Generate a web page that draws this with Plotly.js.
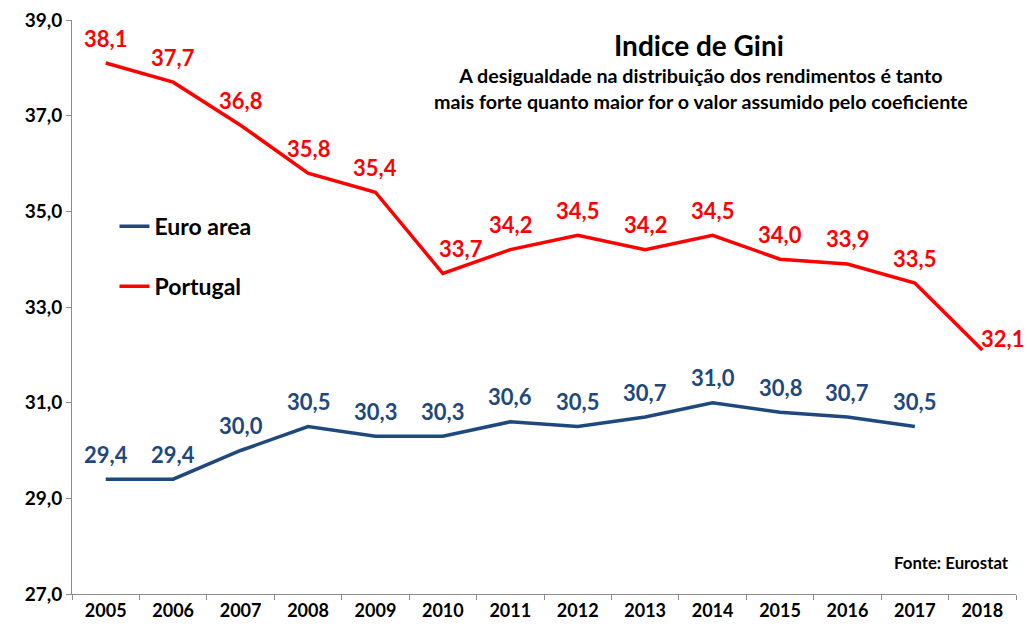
<!DOCTYPE html>
<html>
<head>
<meta charset="utf-8">
<script src="https://cdn.plot.ly/plotly-3.0.1.min.js"></script>
<style>html,body{margin:0;padding:0;background:#fff;}#chart{width:1027px;height:630px;}</style>
</head>
<body>
<div id="chart"></div>
<script>
const years = ['2005','2006','2007','2008','2009','2010','2011','2012','2013','2014','2015','2016','2017','2018'];
const euroArea = [29.4,29.4,30.0,30.5,30.3,30.3,30.6,30.5,30.7,31.0,30.8,30.7,30.5,null];
const portugal = [38.1,37.7,36.8,35.8,35.4,33.7,34.2,34.5,34.2,34.5,34.0,33.9,33.5,32.1];
const yTicks = [27,29,31,33,35,37,39];

const fmt = v => v === null ? '' : v.toFixed(1).replace('.', ',');
const FONT = 'Lato, "Open Sans", sans-serif';
const BLUE = '#1F497D', RED = '#FF0000';

const traces = [
  {
    x: years, y: euroArea, name: 'Euro area', type: 'scatter', mode: 'lines',
    legendgroup: 'a', line: {color: BLUE, width: 3.5}, hoverinfo: 'skip'
  },
  {
    x: years, y: portugal, name: 'Portugal', type: 'scatter', mode: 'lines',
    legendgroup: 'b', line: {color: RED, width: 3.5}, hoverinfo: 'skip'
  }
];

// category index used as x position of the label (the axis is categorical)
function labels(vals, color, shifts) {
  const out = [];
  vals.forEach((v, i) => {
    if (v === null) return;
    const s = (shifts && shifts[years[i]]) || [0, 25];
    out.push({
      x: i, y: v, xref: 'x', yref: 'y', text: fmt(v), showarrow: false,
      xanchor: 'center', yanchor: 'middle', xshift: s[0], yshift: s[1],
      font: {family: FONT, size: 22, color: color, weight: 'bold'}
    });
  });
  return out;
}

const layout = {
  width: 1027, height: 630,
  margin: {l: 72, r: 11, t: 19.5, b: 36},
  paper_bgcolor: '#fff', plot_bgcolor: '#fff',
  separators: ',.',
  font: {family: FONT, color: '#000'},
  showlegend: true,
  legend: {
    x: 0.045, y: 0.678, xanchor: 'left', yanchor: 'top',
    traceorder: 'grouped', tracegroupgap: 27,
    font: {family: FONT, size: 23, color: '#000', weight: 'bold'},
    itemwidth: 30, bgcolor: 'rgba(0,0,0,0)'
  },
  xaxis: {
    type: 'category', range: [-0.5, 13.5],
    showline: true, linecolor: '#8c8c8c', linewidth: 1,
    ticks: 'outside', tickson: 'boundaries', ticklen: 5, tickcolor: '#8c8c8c',
    showgrid: false, zeroline: false,
    tickfont: {family: FONT, size: 18, color: '#000', weight: 'bold'}
  },
  yaxis: {
    range: [27, 39], tickvals: yTicks, ticktext: yTicks.map(fmt),
    showline: true, linecolor: '#8c8c8c', linewidth: 1,
    ticks: 'outside', ticklen: 5, tickcolor: '#8c8c8c',
    showgrid: false, zeroline: false,
    tickfont: {family: FONT, size: 19, color: '#000', weight: 'bold'}
  },
  annotations: [
    {text: 'Indice de Gini', xref: 'paper', yref: 'paper', x: 0.664, y: 0.956,
     xanchor: 'center', yanchor: 'middle', showarrow: false,
     font: {family: FONT, size: 28, color: '#000', weight: 'bold'}},
    {text: 'A desigualdade na distribuição dos rendimentos é tanto<br>mais forte quanto maior for o valor assumido pelo coeficiente',
     xref: 'paper', yref: 'paper', x: 0.666, y: 0.88,
     xanchor: 'center', yanchor: 'middle', showarrow: false, align: 'center',
     font: {family: FONT, size: 19.7, color: '#000', weight: 'bold'}},
    {text: 'Fonte: Eurostat', xref: 'paper', yref: 'paper', x: 0.995, y: 0.055,
     xanchor: 'right', yanchor: 'middle', showarrow: false,
     font: {family: FONT, size: 16.8, color: '#000', weight: 'bold'}}
  ].concat(labels(euroArea, BLUE), labels(portugal, RED, {'2010': [18, 25], '2018': [20, 12]}))
};

Plotly.newPlot('chart', traces, layout, {displayModeBar: false, staticPlot: true});
</script>
</body>
</html>
